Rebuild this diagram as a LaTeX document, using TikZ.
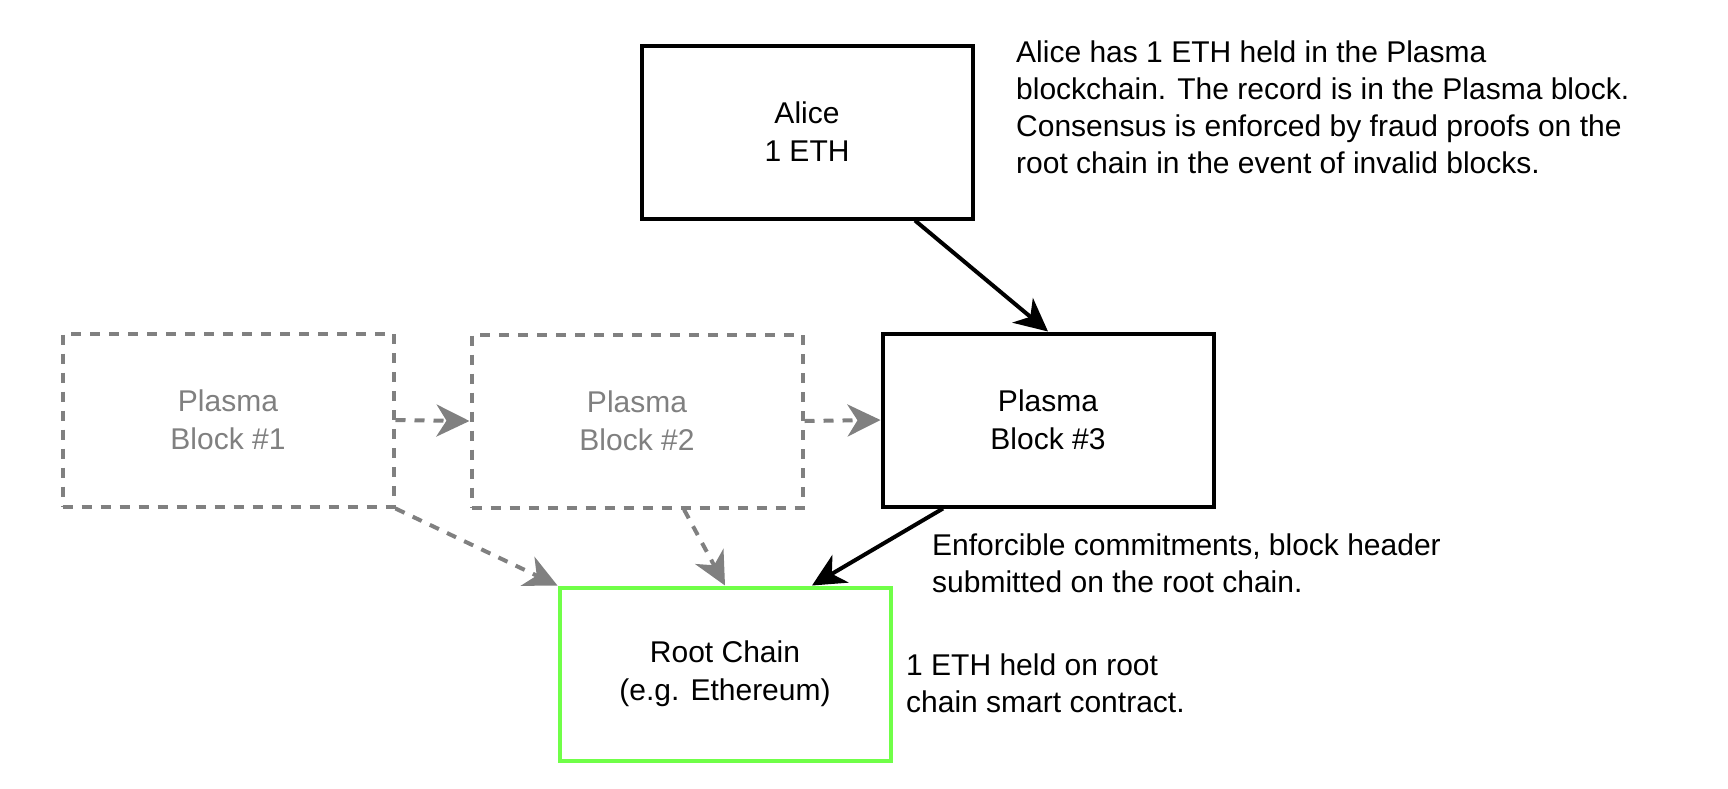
\documentclass[tikz,border=0pt]{standalone}
\usepackage{fontspec}
\setmainfont{Liberation Sans}
\usetikzlibrary{arrows.meta}

\definecolor{rootgreen}{RGB}{112,255,72}
\definecolor{blockgray}{RGB}{128,128,128}

\begin{document}
\begin{tikzpicture}[x=1pt,y=-1pt,text centered,
  font=\fontsize{30}{38}\selectfont,
  block/.style={draw,line width=4pt,minimum width=331pt,minimum height=173pt,align=center,inner sep=0pt},
  oldblock/.style={block,draw=blockgray,text=blockgray,line width=4pt,dash pattern=on 10pt off 9pt},
  note/.style={anchor=west,align=left,inner sep=0pt,font=\fontsize{30}{37}\selectfont},
  link/.style={line width=4pt,-{Stealth[length=33pt,width=32pt,inset=10pt]}},
  oldlink/.style={link,blockgray,line width=4pt,dash pattern=on 10pt off 9pt}]
  \useasboundingbox (0,0) rectangle (1728,788);

  \node (ALICE) at (807,132) [block] {Alice\\1 ETH};
  \node (PB1) at (228,420) [oldblock] {Plasma\\Block \#1};
  \node (PB2) at (637,421) [oldblock] {Plasma\\Block \#2};
  \node (PB3) at (1048,420) [block] {Plasma\\Block \#3};
  \node (ROOT) at (725,674) [block,draw=rootgreen] {Root Chain\\(e.g. Ethereum)};

  \node (NOTEA) at (1016,107) [note] {Alice has 1 ETH held in the Plasma\\blockchain. The record is in the Plasma block.\\Consensus is enforced by fraud proofs on the\\root chain in the event of invalid blocks.};
  \node (NOTEB) at (932,563) [note] {Enforcible commitments, block header\\submitted on the root chain.};
  \node (NOTEC) at (906,683) [note] {1 ETH held on root\\chain smart contract.};

  \draw[link] ([xshift=108pt]ALICE.south) -- (PB3.north);
  \draw[oldlink] (PB1.east) -- (PB2.west);
  \draw[oldlink] (PB2.east) -- (PB3.west);
  \draw[oldlink] (PB1.south east) -- (ROOT.north west);
  \draw[oldlink] ([xshift=47pt]PB2.south) -- (ROOT.north);
  \draw[link] ([xshift=-105pt]PB3.south) -- ([xshift=87pt]ROOT.north);

\end{tikzpicture}
\end{document}
